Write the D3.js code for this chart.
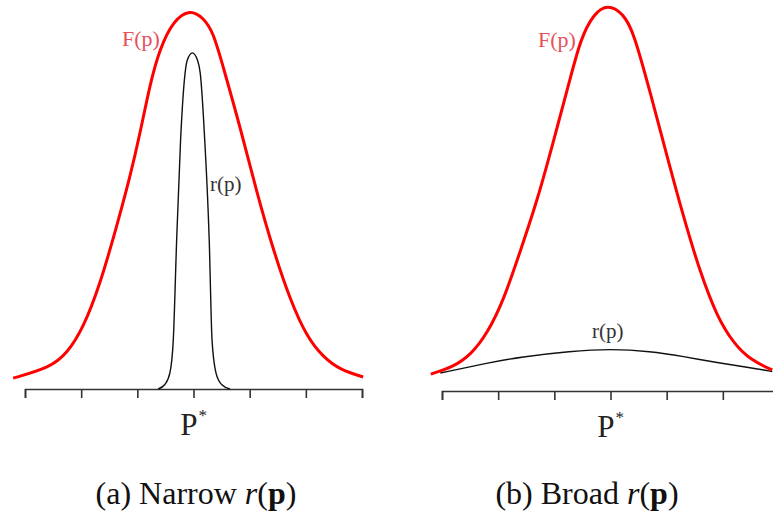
<!DOCTYPE html>
<html><head><meta charset="utf-8">
<script src="https://cdn.jsdelivr.net/npm/d3@7"></script>
<style>body{margin:0;background:#fff}svg{display:block}</style>
</head><body>
<script>
// ---- data (p in tick units, value relative to F peak) ----
const ticks = [-3,-2,-1,0,1,2,3];
// Panel (a)
const aFp = [-3.21,-2.55,-2.25,-1.97,-1.67,-1.37,-1.13,-0.95,-0.77,-0.60,-0.36,-0.06,0.17,0.35,0.53,0.83,1.13,1.42,1.72,2.02,2.31,2.61,3.02];
const aFv = [0.029,0.057,0.095,0.160,0.275,0.431,0.564,0.681,0.814,0.905,0.980,1.01,0.988,0.950,0.856,0.697,0.521,0.370,0.237,0.138,0.085,0.051,0.032];
const aRp = [-0.63,-0.51,-0.42,-0.36,-0.30,-0.23,-0.15,-0.11,-0.02,0.07,0.12,0.20,0.28,0.33,0.40,0.50,0.65];
const aRv = [0,0.012,0.043,0.130,0.396,0.662,0.840,0.875,0.894,0.875,0.840,0.662,0.396,0.130,0.043,0.012,0];
// Panel (b)
const bFp = [-3.20,-2.80,-2.49,-2.19,-1.90,-1.60,-1.30,-1.01,-0.71,-0.53,-0.30,-0.05,0.23,0.41,0.71,1.01,1.30,1.60,1.90,2.19,2.49,2.88];
const bFv = [0.044,0.063,0.094,0.151,0.238,0.368,0.499,0.655,0.820,0.920,0.985,1.01,0.985,0.938,0.778,0.611,0.454,0.308,0.193,0.125,0.081,0.055];
const bRp = [-3.03,-2.19,-1.60,-0.71,0,0.71,1.30,1.90,2.49,2.88];
const bRv = [0.047,0.073,0.089,0.104,0.110,0.104,0.090,0.074,0.061,0.051];
const labels = {F:"F(p)", r:"r(p)", P:"P", star:"*"};
const captions = [["(a) Narrow ","r","(","p",")"],["(b) Broad ","r","(","p",")"]];

const W=773,H=512;
const svg=d3.select("body").append("svg").attr("width",W).attr("height",H);
const serif="'Liberation Serif','Times New Roman',serif";

function panel(cfg){
  const x=d3.scaleLinear().domain([-3,3]).range(cfg.xr);
  const y=d3.scaleLinear().domain([0,1]).range(cfg.yr);
  const g=svg.append("g");
  const ax=g.append("g").attr("transform",`translate(0,${cfg.yr[0]})`)
    .call(d3.axisBottom(x).tickValues(ticks).tickSize(9).tickSizeOuter(9).tickFormat(""));
  ax.selectAll("path,line").attr("stroke","#333").attr("stroke-width",1.6);
  const smooth=d3.line().x(d=>x(d[0])).y(d=>y(d[1])).curve(d3.curveBasis);
  const mono=d3.line().x(d=>x(d[0])).y(d=>y(d[1])).curve(d3.curveMonotoneX);
  g.append("path").datum(d3.zip(cfg.rp,cfg.rv)).attr("d",cfg.i===0?mono:smooth)
    .attr("fill","none").attr("stroke","#111").attr("stroke-width",1.4);
  g.append("path").datum(d3.zip(cfg.fp,cfg.fv)).attr("d",smooth)
    .attr("fill","none").attr("stroke","#ff0000").attr("stroke-width",3);
  g.append("text").attr("x",cfg.fLab[0]).attr("y",cfg.fLab[1]).text(labels.F)
    .attr("font-family",serif).attr("font-size",22).attr("fill","#e8505a");
  g.append("text").attr("x",cfg.rLab[0]).attr("y",cfg.rLab[1]).text(labels.r)
    .attr("font-family",serif).attr("font-size",21).attr("fill","#333");
  const pt=g.append("text").attr("x",x(0)).attr("y",cfg.yr[0]+46).attr("text-anchor","middle")
    .attr("font-family",serif).attr("font-size",31).attr("fill","#222");
  pt.append("tspan").text(labels.P);
  pt.append("tspan").attr("font-size",17).attr("dy",-14).attr("dx",1).text(labels.star);
  const c=g.append("text").attr("x",cfg.cx).attr("y",504).attr("text-anchor","middle")
    .attr("font-family",serif).attr("font-size",32).attr("fill","#111");
  const cap=captions[cfg.i];
  c.append("tspan").text(cap[0]);
  c.append("tspan").attr("font-style","italic").text(cap[1]);
  c.append("tspan").text(cap[2]);
  c.append("tspan").attr("font-weight","bold").text(cap[3]);
  c.append("tspan").text(cap[4]);
}
panel({i:0,xr:[25,362],yr:[389,13],fp:aFp,fv:aFv,rp:aRp,rv:aRv,fLab:[122,46],rLab:[210,191],cx:196});
panel({i:1,xr:[442,779],yr:[391,8],fp:bFp,fv:bFv,rp:bRp,rv:bRv,fLab:[538,47],rLab:[592,338],cx:587});
</script>
</body></html>
